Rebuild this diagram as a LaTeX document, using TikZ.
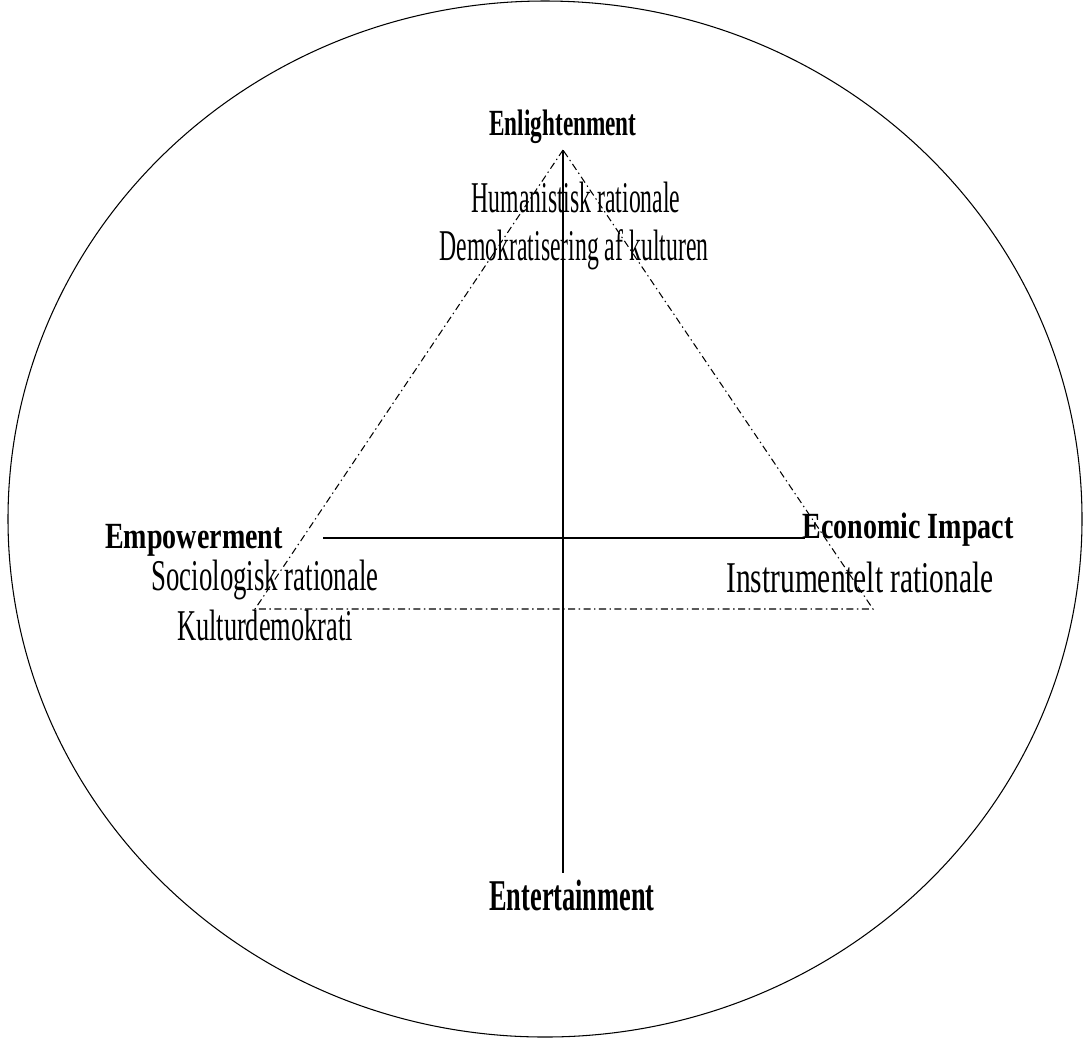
\documentclass[tikz,border=0pt]{standalone}
\usepackage{fontspec}
\setmainfont{Liberation Serif}
\usetikzlibrary{positioning}
\newcommand{\sq}[2]{\scalebox{#1}[1]{#2}}

\begin{document}
\begin{tikzpicture}[x=0.02cm,y=-0.02cm,line width=0.6pt,
  pole/.style={font=\fontsize{21}{24}\selectfont\bfseries,inner sep=1pt},
  bigpole/.style={font=\fontsize{25}{28}\selectfont\bfseries,inner sep=1pt},
  sub/.style={font=\fontsize{25}{28}\selectfont,inner sep=1pt},
  dashdot/.style={dash pattern=on 4pt off 2pt on 0.8pt off 2pt}]
  \useasboundingbox (0,0) rectangle (1084,1039);
  \draw (545,519) ellipse [x radius=537, y radius=518];
  % axes
  \coordinate (top) at (563,150);
  \coordinate (bot) at (563,873);
  \coordinate (lft) at (323,538);
  \coordinate (rgt) at (805,538);
  \draw (top) -- (bot);
  \draw (lft) -- (rgt);
  % triangle
  \coordinate (lc) at (255,609);
  \coordinate (rc) at (873,609);
  \draw [dashdot] (top) -- (lc) -- (rc) -- cycle;
  % labels
  \node [pole] (enl) at (563,127) {\sq{0.63}{Enlightenment}};
  \node [sub] (hum) at (576,197) {\sq{0.54}{Humanistisk rationale}};
  \node [sub] (dem) at (574,250) {\sq{0.54}{Demokratisering af kulturen}};
  \node [pole] (emp) at (194,540) {\sq{0.76}{Empowerment}};
  \node [sub] (soc) at (265,580) {\sq{0.61}{Sociologisk rationale}};
  \node [sub] (kul) at (265,625) {\sq{0.60}{Kulturdemokrati}};
  \node [pole] (eco) at (908,530) {\sq{0.76}{Economic Impact}};
  \node [sub] (ins) at (860,577) {\sq{0.67}{Instrumentelt rationale}};
  \node [bigpole] (ent) at (572,895) {\sq{0.60}{Entertainment}};
\end{tikzpicture}
\end{document}
